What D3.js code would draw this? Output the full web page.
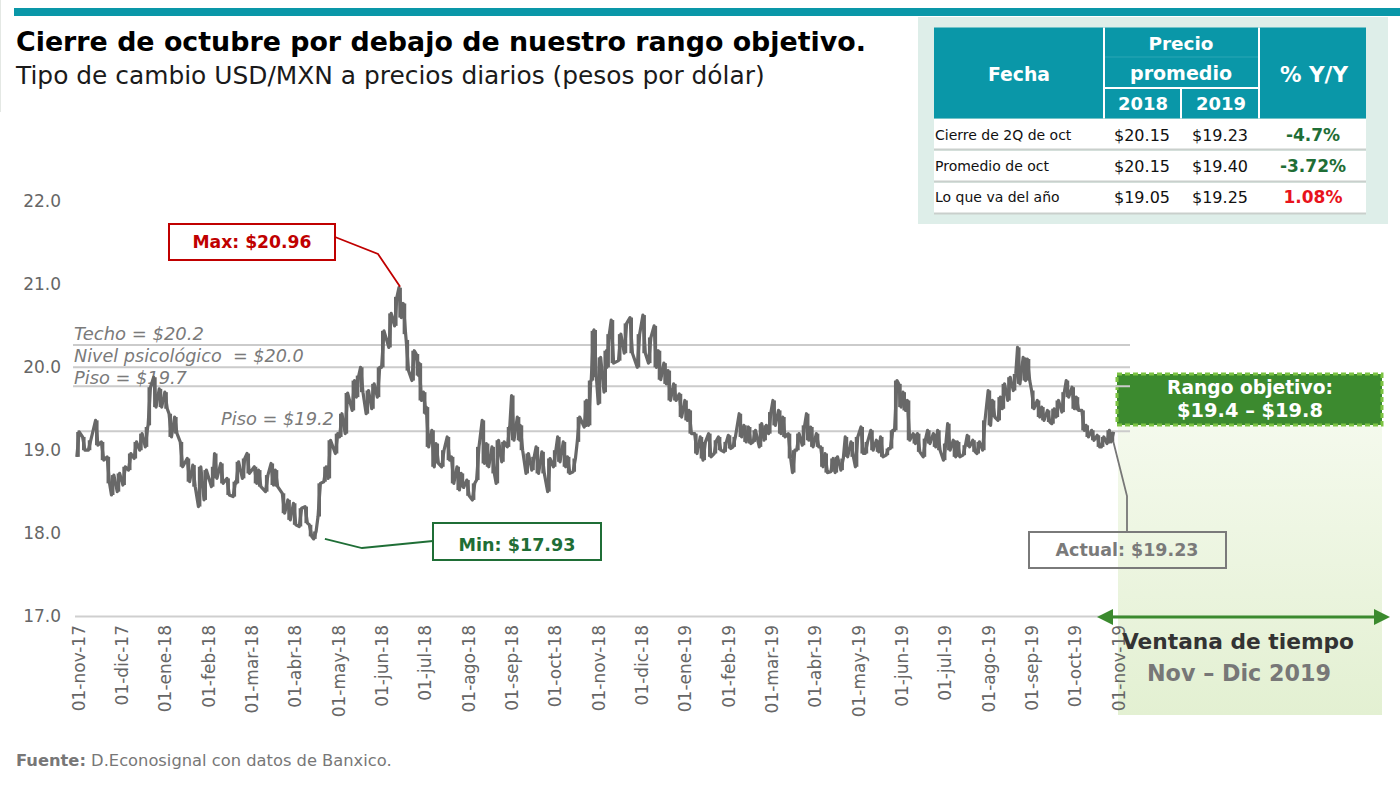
<!DOCTYPE html>
<html><head><meta charset="utf-8">
<script src="https://cdn.jsdelivr.net/npm/d3@7"></script>
<style>body{margin:0;background:#fff}svg{display:block}</style></head>
<body>
<svg id="c" width="1400" height="789"></svg>
<script>
// ---------------- DATA ----------------
const dates = [
 "2017-11-01","2017-11-05","2017-11-09","2017-11-14","2017-11-18","2017-11-22","2017-11-25","2017-11-29",
 "2017-12-03","2017-12-07","2017-12-11","2017-12-15","2017-12-19","2017-12-21","2017-12-25","2017-12-29",
 "2018-01-02","2018-01-05","2018-01-09","2018-01-13","2018-01-18","2018-01-22","2018-01-26","2018-01-30",
 "2018-02-04","2018-02-06","2018-02-10","2018-02-14","2018-02-18","2018-02-20","2018-02-24","2018-02-27",
 "2018-03-04","2018-03-07","2018-03-12","2018-03-16","2018-03-19","2018-03-24","2018-03-28",
 "2018-04-01","2018-04-05","2018-04-09","2018-04-12","2018-04-15","2018-04-18","2018-04-22","2018-04-25","2018-04-30",
 "2018-05-03","2018-05-07","2018-05-12","2018-05-15","2018-05-18","2018-05-22","2018-05-26","2018-05-30",
 "2018-06-02","2018-06-07","2018-06-11","2018-06-14","2018-06-17","2018-06-19","2018-06-23","2018-06-26","2018-06-28",
 "2018-07-01","2018-07-03","2018-07-07","2018-07-10","2018-07-14","2018-07-18","2018-07-21","2018-07-25","2018-07-28",
 "2018-08-01","2018-08-05","2018-08-08","2018-08-12","2018-08-15","2018-08-19","2018-08-22","2018-08-26","2018-08-30",
 "2018-09-02","2018-09-06","2018-09-08","2018-09-12","2018-09-16","2018-09-19","2018-09-23","2018-09-27",
 "2018-10-01","2018-10-04","2018-10-08","2018-10-11","2018-10-15","2018-10-18","2018-10-23","2018-10-26","2018-10-28","2018-10-30",
 "2018-11-02","2018-11-06","2018-11-08","2018-11-11","2018-11-16","2018-11-20","2018-11-24","2018-11-29",
 "2018-12-03","2018-12-07","2018-12-11","2018-12-14","2018-12-18","2018-12-21","2018-12-25","2018-12-29",
 "2019-01-02","2019-01-05","2019-01-09","2019-01-13","2019-01-15","2019-01-19","2019-01-23","2019-01-26","2019-01-30",
 "2019-02-02","2019-02-05","2019-02-09","2019-02-12","2019-02-15","2019-02-18","2019-02-22","2019-02-25","2019-02-28",
 "2019-03-03","2019-03-07","2019-03-10","2019-03-14","2019-03-17","2019-03-20","2019-03-24","2019-03-27","2019-03-30",
 "2019-04-03","2019-04-06","2019-04-09","2019-04-13","2019-04-16","2019-04-20","2019-04-23","2019-04-27","2019-04-30",
 "2019-05-04","2019-05-07","2019-05-11","2019-05-15","2019-05-18","2019-05-22","2019-05-25","2019-05-28","2019-05-31",
 "2019-06-03","2019-06-06","2019-06-10","2019-06-13","2019-06-17","2019-06-20","2019-06-24","2019-06-27",
 "2019-07-01","2019-07-04","2019-07-08","2019-07-11","2019-07-15","2019-07-18","2019-07-22","2019-07-25","2019-07-29",
 "2019-08-02","2019-08-05","2019-08-09","2019-08-12","2019-08-16","2019-08-20","2019-08-23","2019-08-27","2019-08-30",
 "2019-09-02","2019-09-06","2019-09-09","2019-09-13","2019-09-16","2019-09-19","2019-09-23","2019-09-26","2019-09-30",
 "2019-10-03","2019-10-07","2019-10-10","2019-10-14","2019-10-18","2019-10-21","2019-10-25","2019-10-28"
];
const high = [
 19.22,19.16,19.12,19.36,19.10,18.92,18.70,18.72,
 18.80,18.96,19.10,19.20,19.28,19.76,19.88,19.74,
 19.70,19.44,19.40,19.10,18.90,18.82,18.80,18.76,
 18.80,18.96,18.84,18.66,18.62,18.86,18.90,18.96,
 18.80,18.76,18.70,18.84,18.76,18.48,18.40,
 18.36,18.30,18.32,18.10,18.02,18.60,18.80,19.12,19.20,
 19.44,19.69,19.84,19.90,20.00,19.72,19.80,20.00,
 20.44,20.65,20.85,20.96,20.77,20.33,20.20,20.16,20.05,
 19.70,19.52,19.24,19.08,19.00,19.16,18.92,18.80,18.72,
 18.64,18.60,19.04,19.36,19.08,19.04,19.12,19.10,19.28,
 19.66,19.40,19.30,18.96,18.92,19.04,18.98,18.90,
 19.00,19.16,19.10,18.92,18.90,19.40,19.60,19.84,20.44,20.45,
 20.12,20.20,20.40,20.57,20.40,20.53,20.60,20.40,
 20.63,20.36,20.50,20.20,20.05,19.96,19.80,19.68,
 19.60,19.48,19.20,19.16,19.10,19.20,19.12,19.16,19.10,
 19.18,19.16,19.44,19.30,19.28,19.24,19.32,19.30,19.46,
 19.60,19.48,19.40,19.20,19.00,19.20,19.30,19.44,19.28,
 19.20,19.04,18.96,18.90,18.92,18.90,19.16,19.10,19.16,
 19.28,19.10,19.24,19.12,19.16,19.02,19.24,19.84,19.80,
 19.70,19.60,19.20,19.20,19.14,19.24,19.20,19.24,
 19.08,19.32,19.12,19.10,19.06,19.18,19.12,19.10,19.36,
 19.72,19.60,19.64,19.80,19.88,19.92,20.24,20.12,20.10,
 19.72,19.60,19.52,19.48,19.50,19.60,19.70,19.84,19.76,
 19.64,19.48,19.30,19.24,19.18,19.16,19.24,19.22
];
const low = [
 18.92,19.00,19.00,19.06,18.88,18.60,18.46,18.50,
 18.58,18.76,18.90,19.00,19.04,19.30,19.52,19.52,
 19.50,19.16,19.20,18.80,18.62,18.56,18.32,18.40,
 18.56,18.66,18.60,18.46,18.44,18.60,18.66,18.72,
 18.60,18.56,18.50,18.58,18.56,18.24,18.16,
 18.10,18.08,18.12,17.96,17.93,18.20,18.62,18.66,18.96,
 19.16,19.20,19.48,19.64,19.70,19.44,19.50,19.64,
 20.00,20.24,20.50,20.60,20.40,19.96,19.84,19.90,19.60,
 19.44,19.04,18.80,18.84,18.80,18.88,18.60,18.52,18.55,
 18.45,18.40,18.64,18.84,18.80,18.72,18.60,18.86,19.04,
 19.12,19.12,19.00,18.72,18.76,18.72,18.72,18.50,
 18.80,18.86,18.80,18.72,18.74,19.10,19.28,19.30,19.84,19.88,
 19.56,19.70,20.00,20.05,20.08,20.17,20.17,20.00,
 20.17,20.05,20.00,19.85,19.80,19.60,19.60,19.40,
 19.36,19.20,18.96,18.90,18.88,18.92,18.96,19.00,18.98,
 19.02,19.04,19.16,19.10,19.08,19.10,19.04,19.12,19.20,
 19.30,19.20,19.16,18.90,18.73,19.00,19.06,19.12,19.04,
 19.04,18.80,18.73,18.74,18.73,18.76,18.92,18.92,18.80,
 18.96,18.96,19.00,18.98,18.92,18.94,19.02,19.24,19.52,
 19.48,19.12,19.08,18.98,18.92,19.08,19.04,19.00,
 18.88,19.00,18.92,18.92,18.94,19.04,18.98,18.96,19.00,
 19.30,19.40,19.36,19.50,19.60,19.72,19.80,19.84,19.84,
 19.50,19.40,19.36,19.34,19.32,19.40,19.46,19.64,19.50,
 19.48,19.24,19.16,19.12,19.04,19.04,19.08,19.10
];
const monthLabels = ["01-nov-17","01-dic-17","01-ene-18","01-feb-18","01-mar-18","01-abr-18","01-may-18","01-jun-18","01-jul-18","01-ago-18","01-sep-18","01-oct-18","01-nov-18","01-dic-18","01-ene-19","01-feb-19","01-mar-19","01-abr-19","01-may-19","01-jun-19","01-jul-19","01-ago-19","01-sep-19","01-oct-19","01-nov-19"];
const yTicks = [17, 18, 19, 20, 21, 22];
const refLabels = ["Techo = $20.2", "Nivel psicológico  = $20.0", "Piso = $19.7", "Piso = $19.2"];
const refLevels = [20.27, 20.0, 19.77, 19.23];
const maxLabel = "Max: $20.96", minLabel = "Min: $17.93", actualLabel = "Actual: $19.23";
const tableRows = ["Cierre de 2Q de oct", "Promedio de oct", "Lo que va del año"];
const price2018 = ["$20.15", "$20.15", "$19.05"];
const price2019 = ["$19.23", "$19.40", "$19.25"];
const pctYY = ["-4.7%", "-3.72%", "1.08%"];

// ---------------- SETUP ----------------
const FONT = "'DejaVu Sans', Verdana, sans-serif";
const svg = d3.select("#c").style("font-family", FONT);
const TEAL = "#0a97a8", GRAY = "#686868", GREEN = "#1f6e36", BRIGHTG = "#3b8a2e";

function fit(sel, w) {
  const L = sel.node().getComputedTextLength();
  const fs = parseFloat(sel.attr("font-size"));
  sel.attr("font-size", (fs * w / L).toFixed(2));
  return sel;
}
function monthIdx(s) {
  const [Y, M, D] = s.split("-").map(Number);
  const dim = new Date(Y, M, 0).getDate();
  return (Y - 2017) * 12 + (M - 11) + (D - 1) / dim;
}

const x = d3.scaleLinear().domain([0, 24]).range([78, 1118]);
const y = d3.scaleLinear().domain([17, 22]).range([616, 201.5]);

const data = dates.map((d, i) => ({ m: monthIdx(d), hi: high[i], lo: low[i] }));

// left faint border + top bar
svg.append("line").attr("x1", 0.5).attr("x2", 0.5).attr("y1", 0).attr("y2", 112).attr("stroke", "#e4e8e4");
svg.append("rect").attr("x", 14).attr("y", 8).attr("width", 1386).attr("height", 8).attr("fill", TEAL);

// titles
fit(svg.append("text").attr("x", 16).attr("y", 51).attr("font-size", 26).attr("font-weight", "bold").attr("fill", "#000")
  .text("Cierre de octubre por debajo de nuestro rango objetivo."), 850);
fit(svg.append("text").attr("x", 16).attr("y", 84).attr("font-size", 22).attr("fill", "#1a1a1a")
  .text("Tipo de cambio USD/MXN a precios diarios (pesos por dólar)"), 749);

// ---------------- TABLE ----------------
const tb = svg.append("g");
tb.append("rect").attr("x", 918).attr("y", 17).attr("width", 470).attr("height", 207).attr("fill", "#deeee9");
tb.append("rect").attr("x", 934).attr("y", 27.5).attr("width", 432).attr("height", 91).attr("fill", TEAL);
tb.append("line").attr("x1", 1104).attr("x2", 1104).attr("y1", 27.5).attr("y2", 118.5).attr("stroke", "#fff").attr("stroke-width", 2);
tb.append("line").attr("x1", 1259).attr("x2", 1259).attr("y1", 27.5).attr("y2", 118.5).attr("stroke", "#fff").attr("stroke-width", 2);
tb.append("line").attr("x1", 1181).attr("x2", 1181).attr("y1", 88).attr("y2", 118.5).attr("stroke", "#fff").attr("stroke-width", 2);
tb.append("line").attr("x1", 1104).attr("x2", 1259).attr("y1", 88).attr("y2", 88).attr("stroke", "#fff").attr("stroke-width", 2);
tb.append("line").attr("x1", 1105).attr("x2", 1258).attr("y1", 57).attr("y2", 57).attr("stroke", "#2aa6b5").attr("stroke-width", 1);
const hdr = (t, cx, cy, w) => fit(tb.append("text").attr("x", cx).attr("y", cy).attr("dy", "0.36em").attr("text-anchor", "middle")
  .attr("font-size", 18).attr("font-weight", "bold").attr("fill", "#fff").text(t), w);
hdr("Fecha", 1019, 74, 62);
hdr("Precio", 1181, 43, 65);
hdr("promedio", 1181, 73, 102);
hdr("2018", 1143, 104, 50);
hdr("2019", 1221, 104, 50);
hdr("% Y/Y", 1314, 74, 68);
const rowTop = [119, 151, 183], rowH = 30, rowCy = [135, 166, 197];
const pctColors = [GREEN, GREEN, "#e8131b"];
tableRows.forEach((r, i) => {
  tb.append("rect").attr("x", 934).attr("y", rowTop[i]).attr("width", 432).attr("height", rowH).attr("fill", "#fff");
  tb.append("line").attr("x1", 934).attr("x2", 1366).attr("y1", rowTop[i] + rowH + 0.5).attr("y2", rowTop[i] + rowH + 0.5)
    .attr("stroke", "#c9cfcc").attr("stroke-width", 2);
  tb.append("text").attr("x", 935).attr("y", rowCy[i]).attr("dy", "0.36em").attr("font-size", 14).attr("fill", "#111").text(r);
  tb.append("text").attr("x", 1142).attr("y", rowCy[i]).attr("dy", "0.36em").attr("text-anchor", "middle").attr("font-size", 16).attr("fill", "#111").text(price2018[i]);
  tb.append("text").attr("x", 1220).attr("y", rowCy[i]).attr("dy", "0.36em").attr("text-anchor", "middle").attr("font-size", 16).attr("fill", "#111").text(price2019[i]);
  tb.append("text").attr("x", 1313).attr("y", rowCy[i]).attr("dy", "0.36em").attr("text-anchor", "middle").attr("font-size", 17).attr("font-weight", "bold").attr("fill", pctColors[i]).text(pctYY[i]);
});

// ---------------- CHART ----------------
const g = svg.append("g");

const defs = svg.append("defs");
const grad = defs.append("linearGradient").attr("id", "shade").attr("x1", 0).attr("x2", 0).attr("y1", 0).attr("y2", 1);
grad.append("stop").attr("offset", "0%").attr("stop-color", "#f7fbf1");
grad.append("stop").attr("offset", "100%").attr("stop-color", "#e3f0d2");
g.append("rect").attr("x", x(24)).attr("y", 375).attr("width", 1382 - x(24)).attr("height", 340).attr("fill", "url(#shade)");

// rango objetivo box
g.append("rect").attr("x", 1117).attr("y", 374).attr("width", 265).attr("height", 51).attr("fill", "#3c8a2f")
  .attr("stroke", "#7cc343").attr("stroke-width", 3).attr("stroke-dasharray", "5,3");
fit(g.append("text").attr("x", 1250).attr("y", 394).attr("text-anchor", "middle").attr("font-size", 17).attr("font-weight", "bold").attr("fill", "#fff").text("Rango objetivo:"), 166);
fit(g.append("text").attr("x", 1250).attr("y", 417).attr("text-anchor", "middle").attr("font-size", 17).attr("font-weight", "bold").attr("fill", "#fff").text("$19.4 – $19.8"), 146);

// reference lines
const refX1 = [73, 73, 73, 77];
refLevels.forEach((v, i) => {
  g.append("line").attr("x1", refX1[i]).attr("x2", 1130).attr("y1", y(v)).attr("y2", y(v)).attr("stroke", "#cbcbcb").attr("stroke-width", 2);
});
const refX = [74, 74, 74, 221], refW = [130, 230, 113, 113], refDy = [-5, -5, -2.5, -6];
refLabels.forEach((t, i) => {
  fit(g.append("text").attr("x", refX[i]).attr("y", y(refLevels[i]) + refDy[i]).attr("font-size", 17).attr("font-style", "italic")
    .attr("fill", "#7a7a7a").style("white-space", "pre").text(t), refW[i]);
});

// y axis labels
const yAxis = d3.axisLeft(y).tickValues(yTicks).tickFormat(d3.format(".1f")).tickSize(0).tickPadding(0);
const ya = g.append("g").attr("transform", "translate(61,0)").call(yAxis);
ya.select(".domain").remove();
ya.selectAll("text").attr("font-size", 17).attr("fill", "#666").style("font-family", FONT);

// x axis baseline and labels
g.append("line").attr("x1", 75).attr("x2", 1130).attr("y1", 616.5).attr("y2", 616.5).attr("stroke", "#cfcfcf").attr("stroke-width", 2);
const xAxis = d3.axisBottom(x).tickValues(d3.range(25)).tickFormat(i => monthLabels[i]).tickSize(0);
const xa = g.append("g").attr("transform", "translate(0,616)").call(xAxis);
xa.select(".domain").remove();
xa.selectAll("text").attr("font-size", 17).attr("fill", "#666").style("font-family", FONT)
  .attr("text-anchor", "end").attr("transform", "rotate(-90)").attr("x", -9).attr("y", 0).attr("dy", "0.36em");

// series: hi-lo bars + zigzag path
g.append("g").selectAll("line").data(data).join("line")
  .attr("x1", d => x(d.m)).attr("x2", d => x(d.m)).attr("y1", d => y(d.hi)).attr("y2", d => y(d.lo))
  .attr("stroke", GRAY).attr("stroke-width", 3.6);
const pts = [];
data.forEach((d, i) => {
  const next = data[i + 1];
  const up = next ? (next.hi + next.lo) > (d.hi + d.lo) : true;
  const xm = x(d.m);
  if (up) { pts.push([xm - 1.2, y(d.lo)]); pts.push([xm + 1.2, y(d.hi)]); }
  else { pts.push([xm - 1.2, y(d.hi)]); pts.push([xm + 1.2, y(d.lo)]); }
});
g.append("path").attr("d", d3.line()(pts)).attr("fill", "none").attr("stroke", GRAY).attr("stroke-width", 3.2).attr("stroke-linejoin", "round");

// annotations
const iMax = d3.maxIndex(data, d => d.hi), iMin = d3.minIndex(data, d => d.lo);
const dMax = data[iMax], dMin = data[iMin], dLast = data[data.length - 1];
const RED = "#c00000";
g.append("path").attr("d", d3.line()([[335, 237], [378, 254], [x(dMax.m), y(dMax.hi) - 1]])).attr("fill", "none").attr("stroke", RED).attr("stroke-width", 1.8);
g.append("rect").attr("x", 169).attr("y", 224).attr("width", 166).attr("height", 36).attr("fill", "#fff").attr("stroke", RED).attr("stroke-width", 2);
fit(g.append("text").attr("x", 252).attr("y", 248).attr("text-anchor", "middle").attr("font-size", 17).attr("font-weight", "bold").attr("fill", RED).text(maxLabel), 119);

g.append("path").attr("d", d3.line()([[x(dMin.m) + 10, y(dMin.lo)], [362, 548], [433, 541]])).attr("fill", "none").attr("stroke", GREEN).attr("stroke-width", 1.8);
g.append("rect").attr("x", 433).attr("y", 523).attr("width", 168).attr("height", 37).attr("fill", "#fff").attr("stroke", GREEN).attr("stroke-width", 2);
fit(g.append("text").attr("x", 517).attr("y", 551).attr("text-anchor", "middle").attr("font-size", 17).attr("font-weight", "bold").attr("fill", GREEN).text(minLabel), 117);

g.append("path").attr("d", d3.line()([[x(dLast.m) + 1, y(dLast.lo)], [1127, 496], [1127, 532]])).attr("fill", "none").attr("stroke", "#777").attr("stroke-width", 1.8);
g.append("rect").attr("x", 1029).attr("y", 532).attr("width", 197).attr("height", 36).attr("fill", "none").attr("stroke", "#7a7a7a").attr("stroke-width", 2);
fit(g.append("text").attr("x", 1127).attr("y", 556).attr("text-anchor", "middle").attr("font-size", 17).attr("font-weight", "bold").attr("fill", "#7a7a7a").text(actualLabel), 143);

// double arrow
g.append("line").attr("x1", 1104).attr("x2", 1383).attr("y1", 617).attr("y2", 617).attr("stroke", BRIGHTG).attr("stroke-width", 3);
g.append("path").attr("d", "M1097,617 L1113,609 L1113,625 Z").attr("fill", BRIGHTG);
g.append("path").attr("d", "M1390,617 L1374,609 L1374,625 Z").attr("fill", BRIGHTG);

fit(g.append("text").attr("x", 1238).attr("y", 649).attr("text-anchor", "middle").attr("font-size", 22).attr("font-weight", "bold").attr("fill", "#333").text("Ventana de tiempo"), 232);
fit(g.append("text").attr("x", 1239).attr("y", 681).attr("text-anchor", "middle").attr("font-size", 22).attr("font-weight", "bold").attr("fill", "#777").text("Nov – Dic 2019"), 184);

// footer
const ft = svg.append("text").attr("x", 16).attr("y", 766).attr("font-size", 15).attr("fill", "#777");
ft.append("tspan").attr("font-weight", "bold").text("Fuente:");
ft.append("tspan").text(" D.Econosignal con datos de Banxico.");
fit(ft, 376);
</script>
</body></html>
